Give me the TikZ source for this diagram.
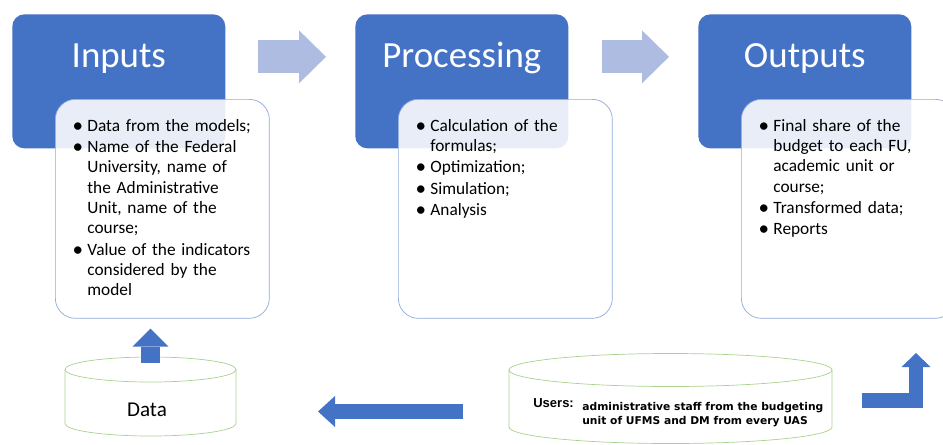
\documentclass[tikz,border=0pt]{standalone}
\usepackage{fontspec}
\setmainfont{Carlito}
\newfontfamily\usersFont{Liberation Sans}
\newfontfamily\staffFont{DejaVu Sans}
\usetikzlibrary{calc,arrows.meta}
\tikzstyle{canvas} = [x = .02cm, y = -.02cm]
\definecolor{stageBlue}{RGB}{68,114,196}
\definecolor{flowBlue}{RGB}{175,188,225}
\definecolor{listBorder}{RGB}{143,170,220}
\definecolor{drumGreen}{RGB}{169,209,142}
\tikzstyle{headBox} = [fill=stageBlue, rounded corners = .24cm, minimum width = 4.26cm, minimum height = 2.68cm, inner sep = 0pt]
\tikzstyle{headText} = [text=white, font=\fontsize{21}{25}\selectfont, inner sep = 0pt]
\tikzstyle{listBox} = [draw=listBorder, fill=white, fill opacity = .88, rounded corners = .4cm, minimum width = 4.28cm, minimum height = 4.38cm, inner sep = 0pt]
\tikzstyle{listText} = [font=\fontsize{9.85}{11.55}\selectfont, text width = 5cm, inner sep = 0pt, align = left]
\tikzstyle{flowArrow} = [color=flowBlue, line width = .66cm, -{Triangle[length = .54cm, width = 1.06cm, line width = 0pt]}]
\tikzstyle{solidArrow} = [color=stageBlue]
\tikzstyle{drumLine} = [draw=drumGreen, thin]
\newcommand{\itemDot}{\llap{\raisebox{-.6pt}{\fontsize{12}{12}\selectfont\textbullet}}}
\newenvironment{stageItems}{\begin{list}{\itemDot}{%
  \setlength{\leftmargin}{6.3pt}\setlength{\labelwidth}{0pt}\setlength{\labelsep}{2.4pt}%
  \setlength{\itemsep}{.6pt}\setlength{\parsep}{0pt}\setlength{\topsep}{0pt}\setlength{\partopsep}{0pt}}}%
  {\end{list}}
% one stage: blue title box with the item box laid over its lower right part
\newcommand{\stage}[3]{
  \node [headBox, anchor = north west] (#1Head) at (#2, 14) {};
  \node [headText, anchor = base] (#1Title) at ($(#1Head.north) + (0, 53)$) {#3};
  \node [listBox, anchor = north west] (#1List) at ($(#1Head.north west) + (43, 85)$) {};
}
% centre x, top y, bottom y, x radius, y radius
\newcommand{\drum}[5]{
  \draw [drumLine] (#1 - #4, #2) -- (#1 - #4, #3) arc [start angle = 180, end angle = 0, x radius = #4, y radius = #5] -- (#1 + #4, #2);
  \draw [drumLine] (#1, #2) ellipse [x radius = #4, y radius = #5];
}

\begin{document}
\begin{tikzpicture}[canvas]
  \useasboundingbox (0, 0) rectangle (943, 444);
  \clip (0, 0) rectangle (943, 444);

  \stage{inputs}{12}{Inputs}
  \stage{process}{355}{Processing}
  \stage{outputs}{698}{Outputs}

  \node [listText, anchor = base west] (inputsItems) at ($(inputsList.north west) + (21, 12)$) {\begin{stageItems}
    \item Data from the models;
    \item Name of the Federal\\ University, name of\\ the Administrative\\ Unit, name of the\\ course;
    \item Value of the indicators\\ considered by the\\ model
  \end{stageItems}};
  \node [listText, anchor = base west] (processItems) at ($(processList.north west) + (21, 12)$) {\begin{stageItems}
    \item Calculation of the\\ formulas;
    \item Optimization;
    \item Simulation;
    \item Analysis
  \end{stageItems}};
  \node [listText, anchor = base west] (outputsItems) at ($(outputsList.north west) + (21, 12)$) {\begin{stageItems}
    \item Final share of the\\ budget to each FU,\\ academic unit or\\ course;
    \item Transformed data;
    \item Reports
  \end{stageItems}};

  \draw [flowArrow] ($(inputsHead.east) + (32, -24.5)$) -- ($(processHead.west) + (-29, -24.5)$);
  \draw [flowArrow] ($(processHead.east) + (33, -24.5)$) -- ($(outputsHead.west) + (-29, -24.5)$);

  % data store and users
  \drum{150.5}{369.5}{423.5}{85.5}{12.5}
  \node (dataLabel) at (147, 410) {\fontsize{12}{14}\selectfont Data};
  \drum{670.5}{370}{427}{161.5}{16.5}
  \node [anchor = base west, inner sep = 0pt, font = \usersFont\bfseries\fontsize{7.4}{9}\selectfont] (usersLabel) at (533, 407) {Users:};
  \node [anchor = base west, inner sep = 0pt, align = left, font = \staffFont\bfseries\fontsize{6.1}{7.9}\selectfont] (usersText) at (582, 424)
    {administrative staff from the budgeting\\ unit of UFMS and DM from every UAS};

  \coordinate (drumTop) at (150.5, 363);
  \draw [solidArrow, line width = .38cm, -{Triangle[length = .36cm, width = .72cm, line width = 0pt]}]
    (drumTop) -- ($(inputsList.south -| drumTop) + (0, 10)$);
  \coordinate (usersTail) at (463, 411.5);
  \coordinate (dataTip) at (318, 411.5);
  \draw [solidArrow, line width = .3cm, -{Triangle[length = .34cm, width = .62cm, line width = 0pt]}] (usersTail) -- (dataTip);
  \coordinate (turnStart) at (862, 400.5);
  \draw [solidArrow, line width = .29cm, -{Triangle[length = .28cm, width = .58cm, line width = 0pt]}]
    (turnStart) -- (916, 400.5) -- (916, 353);
\end{tikzpicture}
\end{document}
